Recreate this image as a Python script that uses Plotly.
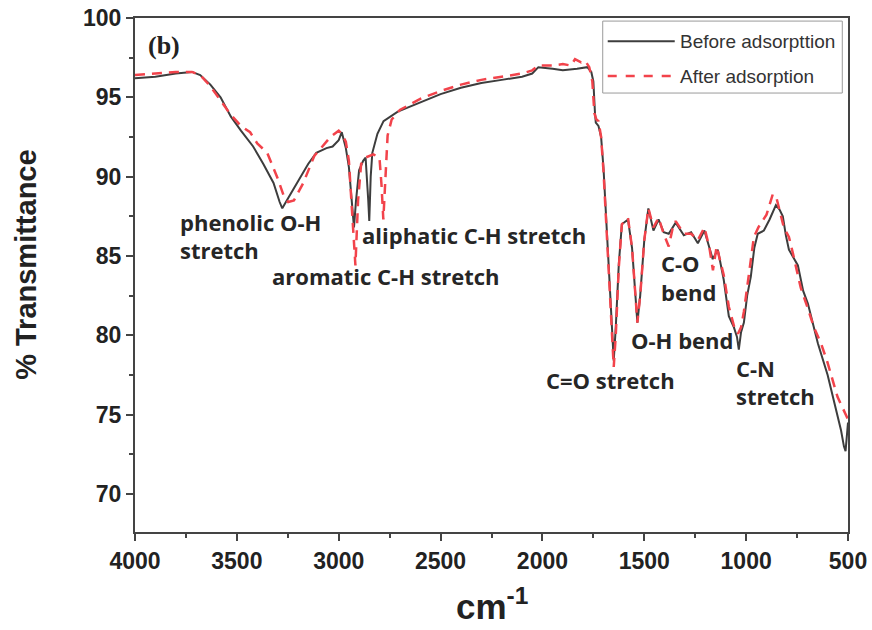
import plotly.graph_objects as go

# FTIR spectra (wavenumber in cm-1, % transmittance)
wn_before = [4000, 3900, 3800, 3720, 3680, 3630, 3580, 3530, 3480, 3420, 3370, 3320,
             3290, 3277, 3250, 3200, 3150, 3110, 3060, 3030, 3000, 2985, 2965, 2950,
             2935, 2925, 2915, 2900, 2880, 2868, 2855, 2850, 2843, 2835, 2810, 2780,
             2710, 2600, 2500, 2400, 2300, 2200, 2100, 2050, 2020, 1950, 1900, 1830,
             1780, 1760, 1750, 1742, 1738, 1725, 1712, 1700, 1680, 1665, 1650, 1640,
             1625, 1610, 1580, 1560, 1545, 1534, 1520, 1500, 1480, 1455, 1430, 1405,
             1380, 1346, 1306, 1270, 1237, 1205, 1164, 1139, 1110, 1085, 1060, 1045,
             1036, 1025, 1011, 995, 977, 960, 943, 913, 885, 854, 835, 820, 805, 790,
             746, 720, 697, 648, 600, 560, 534, 520, 512, 500]
t_before = [96.2, 96.3, 96.5, 96.6, 96.4, 95.8, 95.0, 93.8, 92.9, 91.9, 90.8, 89.6,
            88.4, 88.0, 88.6, 89.7, 90.8, 91.5, 91.8, 91.9, 92.3, 92.8, 91.8, 90.6,
            88.5, 86.8, 88.5, 90.4, 91.0, 91.2, 88.5, 87.2, 90.0, 91.5, 92.7, 93.5,
            94.1, 94.7, 95.2, 95.6, 95.9, 96.1, 96.3, 96.5, 96.9, 96.8, 96.7, 96.8,
            96.9, 96.6, 96.0, 94.0, 93.4, 93.2, 92.5, 90.5, 85.5, 81.5, 78.4, 80.5,
            84.5, 87.0, 87.3, 85.5, 82.5, 80.8, 82.5, 86.0, 88.0, 86.6, 87.3, 86.5,
            86.4, 87.1, 86.3, 86.5, 85.8, 86.6, 84.8, 85.4, 83.5, 81.2, 80.5, 79.9,
            79.1, 80.2, 80.8, 82.5, 83.7, 85.5, 86.4, 86.6, 87.3, 88.2, 87.9, 87.5,
            86.3, 85.4, 84.4, 82.8, 82.0, 79.5, 77.5, 75.4, 74.0, 73.0, 72.7, 74.5]

wn_after = [4000, 3900, 3800, 3720, 3680, 3630, 3580, 3530, 3480, 3435, 3400, 3351,
            3300, 3270, 3248, 3220, 3174, 3120, 3041, 3000, 2985, 2965, 2950, 2935,
            2918, 2905, 2890, 2869, 2830, 2800, 2790, 2781, 2772, 2760, 2740, 2700,
            2600, 2500, 2400, 2300, 2200, 2100, 2050, 2020, 1950, 1900, 1860, 1840,
            1810, 1790, 1770, 1755, 1745, 1735, 1725, 1712, 1700, 1680, 1665, 1650,
            1640, 1625, 1610, 1580, 1560, 1545, 1534, 1520, 1500, 1480, 1455, 1430,
            1405, 1380, 1360, 1346, 1306, 1270, 1237, 1205, 1180, 1163, 1145, 1110,
            1085, 1060, 1040, 1025, 1011, 990, 962, 940, 900, 869, 850, 815, 790,
            771, 732, 700, 667, 630, 601, 551, 520, 500]
t_after = [96.4, 96.5, 96.6, 96.6, 96.4, 95.7, 94.8, 93.9, 93.2, 92.8, 92.1, 91.5,
           89.9, 88.8, 88.4, 88.5, 89.6, 91.3, 92.5, 92.9, 92.7, 92.2, 91.0, 88.0,
           84.4, 88.5, 90.8, 91.2, 91.4, 91.2, 89.5, 87.3, 90.0, 92.6, 93.6, 94.2,
           94.9, 95.4, 95.8, 96.1, 96.3, 96.5, 96.7, 97.0, 97.0, 97.1, 97.0, 97.4,
           97.2, 97.3, 96.9, 96.0, 94.0, 93.6, 93.5, 92.5, 90.3, 85.0, 81.0, 78.0,
           80.0, 84.3, 87.0, 87.4, 85.5, 82.5, 80.8, 82.5, 86.0, 88.0, 86.8, 87.4,
           86.4, 85.6, 86.8, 87.2, 86.4, 86.4, 86.0, 86.8, 85.5, 84.1, 85.6, 83.8,
           81.8, 80.6, 80.1, 80.5, 81.5, 83.5, 86.2, 86.8, 87.6, 88.9, 88.6, 86.8,
           86.2, 85.2, 83.0, 81.8, 80.5, 79.4, 78.3, 76.1, 75.2, 74.7]

series_names = ["Before adsorpttion", "After adsorption"]
x_ticks = [4000, 3500, 3000, 2500, 2000, 1500, 1000, 500]
y_ticks = [70, 75, 80, 85, 90, 95, 100]

# band assignments: (text, wavenumber at left edge of text, % T)
band_labels = [
    ("phenolic O-H", 3789, 87.15),
    ("stretch", 3789, 85.38),
    ("aromatic C-H stretch", 3336, 83.74),
    ("aliphatic C-H stretch", 2894, 86.33),
    ("C=O stretch", 1994, 77.19),
    ("O-H bend", 1576, 79.71),
    ("C-O", 1429, 84.56),
    ("bend", 1429, 82.73),
    ("C-N", 1060, 77.95),
    ("stretch", 1060, 76.18),
]

BLACK = "#3d3d3d"
RED = "#f2434b"

fig = go.Figure()
fig.add_trace(go.Scatter(x=wn_before, y=t_before, mode="lines", name=series_names[0],
                         line=dict(color=BLACK, width=2)))
fig.add_trace(go.Scatter(x=wn_after, y=t_after, mode="lines", name=series_names[1],
                         line=dict(color=RED, width=2.5, dash="10px,7px")))

label_font = dict(family="Open Sans", size=22, color="#262626", weight="bold")
annotations = []
for txt, xv, yv in band_labels:
    annotations.append(dict(x=xv, y=yv, xref="x", yref="y", text=txt, showarrow=False,
                            xanchor="left", yanchor="middle", font=label_font))

# panel tag
annotations.append(dict(x=0.016, y=0.947, xref="paper", yref="paper", text="(b)",
                        showarrow=False, xanchor="left", yanchor="middle",
                        font=dict(family="Liberation Serif", size=26, color="#222",
                                  weight="bold")))
# axis titles
annotations.append(dict(x=-0.152, y=0.519, xref="paper", yref="paper",
                        text="% Transmittance", textangle=-90, showarrow=False,
                        xanchor="center", yanchor="middle",
                        font=dict(family="Liberation Sans", size=29, color="#222",
                                  weight="bold")))
annotations.append(dict(x=0.50, y=-0.140, xref="paper", yref="paper",
                        text="cm<sup>-1</sup>", showarrow=False,
                        xanchor="center", yanchor="middle",
                        font=dict(family="Liberation Sans", size=35, color="#222",
                                  weight="bold")))

# legend drawn as a framed key
leg_font = dict(family="Liberation Sans", size=19, color="#333")
legend_rows = [(0.955, BLACK, "solid", 2), (0.887, RED, "dash", 2.5)]
shapes = [dict(type="rect", xref="paper", yref="paper", x0=0.656, x1=0.992,
               y0=0.854, y1=0.994, line=dict(color="#9a9a9a", width=1),
               fillcolor="white")]
for (yy, col, dsh, w), nm in zip(legend_rows, series_names):
    shapes.append(dict(type="line", xref="paper", yref="paper", x0=0.663, x1=0.757,
                       y0=yy, y1=yy, line=dict(color=col, width=w, dash=dsh)))
    annotations.append(dict(x=0.761, y=yy, xref="paper", yref="paper", text=nm,
                            showarrow=False, xanchor="left", yanchor="middle",
                            font=leg_font))

tick_font = dict(family="Liberation Sans", size=23, color="#222", weight="bold")
fig.update_layout(
    width=872, height=630,
    margin=dict(l=135, r=24, t=18, b=98, autoexpand=False),
    paper_bgcolor="white", plot_bgcolor="white",
    showlegend=False,
    annotations=annotations,
    shapes=shapes,
    xaxis=dict(range=[4000, 500], tickvals=x_ticks, ticks="outside", ticklen=7,
               tickwidth=1.5, tickcolor="#444", showline=True, linecolor="#444",
               linewidth=2, mirror=True, showgrid=False, zeroline=False,
               tickfont=tick_font, automargin=False,
               minor=dict(dtick=250, ticks="outside", ticklen=4, tickcolor="#444",
                          showgrid=False)),
    yaxis=dict(range=[67.6, 100], tickvals=y_ticks, ticks="outside", ticklen=7,
               tickwidth=1.5, tickcolor="#444", showline=True, linecolor="#444",
               linewidth=2, mirror=True, showgrid=False, zeroline=False,
               tickfont=tick_font, automargin=False,
               minor=dict(dtick=2.5, ticks="outside", ticklen=4, tickcolor="#444",
                          showgrid=False)),
)

fig.write_html("out.html")
